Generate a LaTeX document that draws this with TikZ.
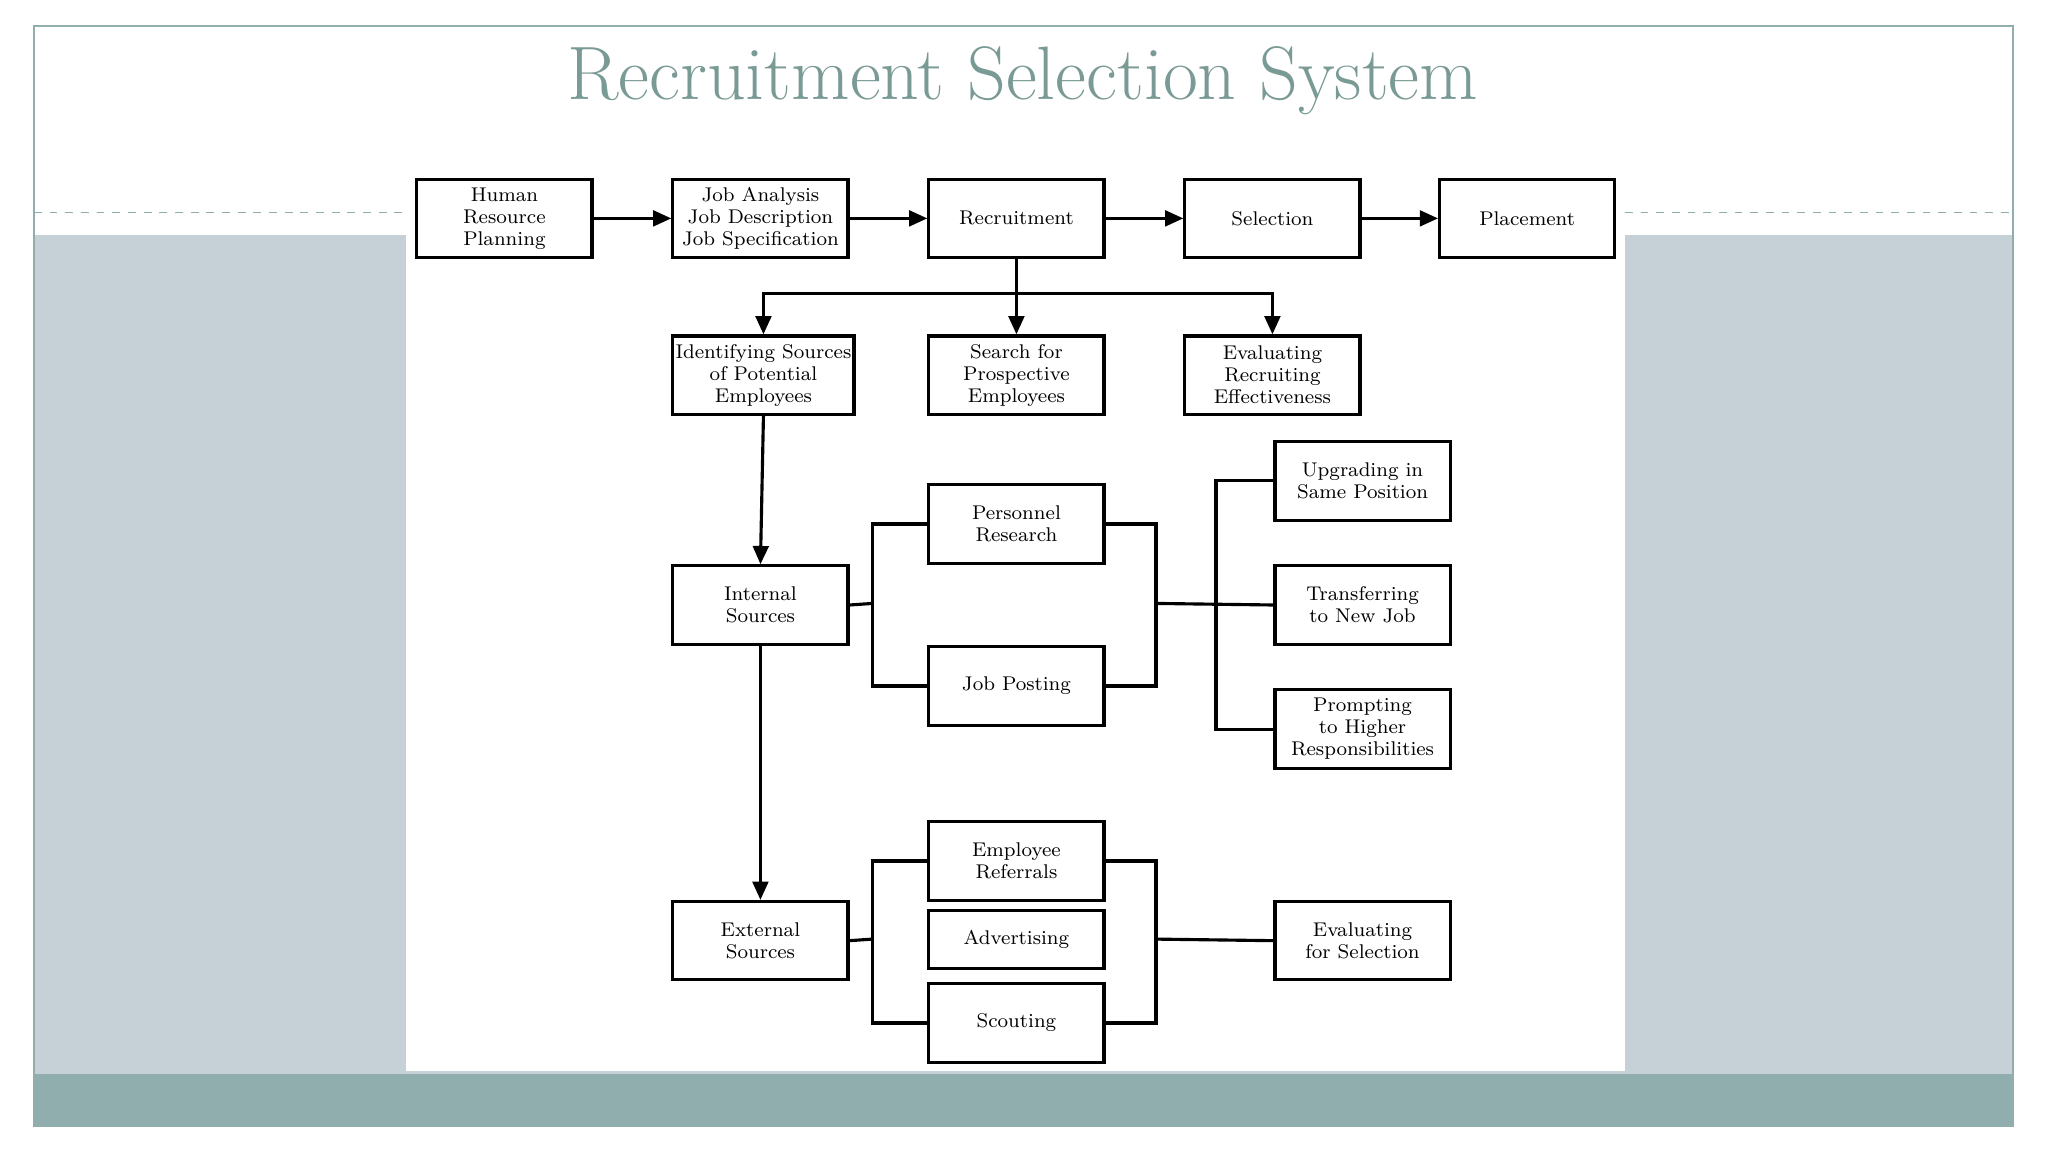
\documentclass[tikz,border=0pt]{standalone}
\usetikzlibrary{arrows.meta}
\definecolor{ttl}{HTML}{7A9A95}
\definecolor{side}{HTML}{C5D1D7}
\definecolor{band}{HTML}{8FAEAD}
\begin{document}
\begin{tikzpicture}[x=0.5pt,y=-0.5pt,
 box/.style={draw=black,line width=1.2pt,minimum width=67pt,minimum height=30pt,inner sep=1pt,align=center,font=\fontsize{7.6}{8.4}\selectfont,anchor=north west,fill=white},
 ln/.style={line width=1.2pt},
 ar/.style={line width=1.2pt,-{Triangle[length=7pt,width=6pt]}}]
\useasboundingbox (0,0) rectangle (1568,882);
\fill[white] (0,0) rectangle (1568,882);
\fill[side] (26,180) rectangle (1541,822);
\fill[band] (26,822) rectangle (1541,862);
\fill[white] (311,180) rectangle (1244,820);
\draw[band,line width=0.6pt] (26,20) rectangle (1541,862);
\draw[band,dashed,line width=0.4pt] (26,163) -- (311,163) (1244,163) -- (1541,163);
\node[text=ttl,font=\fontsize{29}{32}\selectfont] (title) at (783,62) {Recruitment Selection System};
% row 1
\node[box] (hrp) at (318,136) {Human\\Resource\\Planning};
\node[box] (ja) at (514,136) {Job Analysis\\Job Description\\Job Specification};
\node[box] (rec) at (710,136) {Recruitment};
\node[box] (sel) at (906,136) {Selection};
\node[box] (pla) at (1101,136) {Placement};
\draw[ar] (hrp) -- (ja);
\draw[ar] (ja) -- (rec);
\draw[ar] (rec) -- (sel);
\draw[ar] (sel) -- (pla);
% row 2
\node[box] (ids) at (514,256) {Identifying Sources\\of Potential\\Employees};
\node[box] (sfp) at (710,256) {Search for\\Prospective\\Employees};
\node[box] (ere) at (906,256) {Evaluating\\Recruiting\\Effectiveness};
\coordinate (j) at (777,225);
\draw[ar] (rec.south) -- (sfp.north);
\draw[ar] (j) -| (ids.north);
\draw[ar] (j) -| (ere.north);
% internal
\node[box] (int) at (514,432) {Internal\\Sources};
\node[box] (per) at (710,370) {Personnel\\Research};
\node[box] (jp) at (710,494) {Job Posting};
\node[box] (upg) at (975,337) {Upgrading in\\Same Position};
\node[box] (tra) at (975,432) {Transferring\\to New Job};
\node[box] (pro) at (975,527) {Prompting\\to Higher\\Responsibilities};
\draw[ar] (ids.south) -- (int.north);
\coordinate (il) at (668,462);
\draw[ln] (int.east) -- (il);
\draw[ln] (per.west) -| (il) |- (jp.west);
\coordinate (ir) at (885,462);
\draw[ln] (per.east) -| (ir) |- (jp.east);
\draw[ln] (ir) -- (tra.west);
\coordinate (iv) at (931,462);
\draw[ln] (upg.west) -| (iv) |- (pro.west);
% external
\node[box] (ext) at (514,689) {External\\Sources};
\node[box] (emp) at (710,628) {Employee\\Referrals};
\node[box,minimum height=22pt] (adv) at (710,696) {Advertising};
\node[box] (sco) at (710,752) {Scouting};
\node[box] (efs) at (975,689) {Evaluating\\for Selection};
\draw[ar] (int.south) -- (ext.north);
\coordinate (el) at (668,719);
\draw[ln] (ext.east) -- (el);
\draw[ln] (emp.west) -| (el) |- (sco.west);
\coordinate (er) at (885,719);
\draw[ln] (emp.east) -| (er) |- (sco.east);
\draw[ln] (er) -- (efs.west);
\end{tikzpicture}
\end{document}
